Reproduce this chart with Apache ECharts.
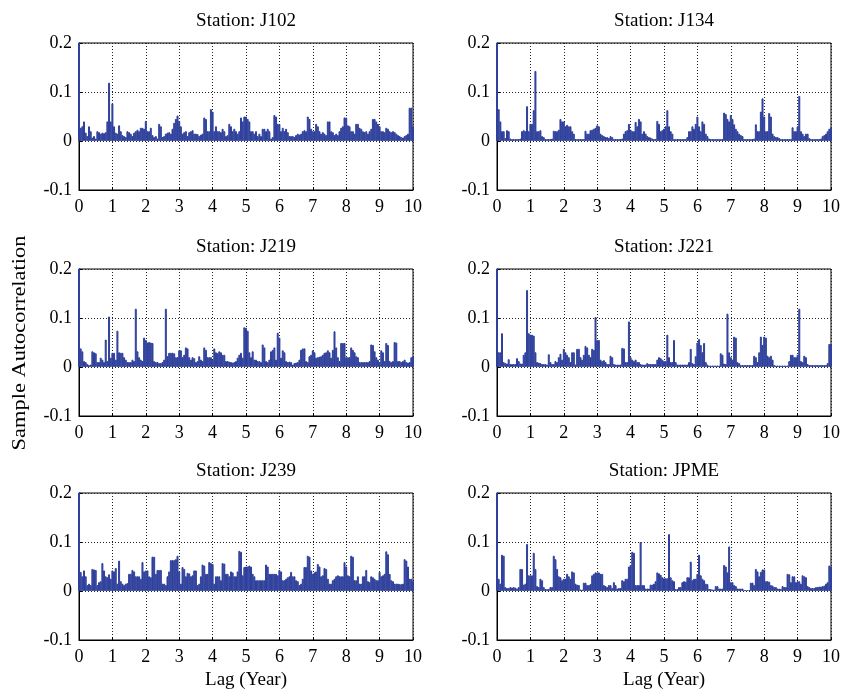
<!DOCTYPE html>
<html>
<head>
<meta charset="utf-8">
<script src="https://cdn.jsdelivr.net/npm/echarts@6/dist/echarts.min.js"></script>
<style>
  html, body { margin: 0; padding: 0; background: #fff; }
  #chart { width: 856px; height: 695px; }
</style>
</head>
<body>
<div id="chart"></div>
<script>
// sample autocorrelation, lag step 0.05 year (0 .. 10)
var stations = ['J102', 'J134', 'J219', 'J221', 'J239', 'JPME'];

var j102 = [
  1, .027, .03, .04, .017, .01, .03, .02, .007, .01, .005, .02, .018, .015, .017, .016, .018, .04, .119, .04,
  .077, .03, .017, .015, .032, .02, .012, .01, .008, .02, .018, .015, .01, .017, .02, .023, .02, .027, .027, .025,
  .041, .02, .02, .027, .012, .008, .01, .005, .035, .03, .008, .01, .015, .017, .018, .015, .025, .037, .045, .052,
  .041, .03, .015, .018, .02, .01, .018, .02, .022, .015, .015, .014, .01, .013, .015, .048, .045, .02, .02, .065,
  .06, .02, .03, .02, .02, .018, .025, .02, .01, .012, .035, .03, .02, .025, .02, .015, .02, .048, .04, .05,
  .05, .045, .04, .02, .02, .015, .02, .01, .015, .01, .025, .025, .02, .025, .02, .005, .008, .053, .05, .035,
  .035, .02, .027, .02, .025, .018, .01, .01, .01, .008, .012, .015, .013, .015, .02, .022, .02, .05, .045, .025,
  .02, .02, .035, .03, .02, .015, .018, .015, .012, .04, .04, .02, .018, .012, .015, .012, .02, .027, .03, .048,
  .048, .032, .03, .02, .02, .015, .035, .035, .027, .025, .02, .018, .02, .015, .02, .025, .045, .045, .04, .035,
  .03, .02, .02, .018, .027, .025, .02, .018, .02, .018, .015, .012, .01, .008, .007, .01, .012, .015, .068, .068,
  .03
];

var j134 = [
  1, .065, .04, .02, .02, .006, .022, .02, .005, .004, .004, .004, .004, .004, .005, .02, .022, .02, .071, .02,
  .035, .035, .063, .143, .02, .02, .022, .01, .008, .004, .004, .004, .004, .005, .021, .02, .02, .023, .045, .04,
  .04, .03, .033, .03, .03, .02, .015, .004, .004, .004, .004, .004, .004, .021, .015, .015, .022, .023, .025, .027,
  .032, .03, .015, .012, .01, .008, .008, .006, .01, .008, .004, .004, .004, .004, .004, .005, .015, .02, .022, .035,
  .023, .02, .02, .039, .03, .045, .04, .015, .02, .015, .01, .008, .007, .005, .004, .004, .041, .035, .02, .022,
  .025, .03, .063, .03, .02, .015, .004, .004, .004, .004, .004, .004, .004, .004, .008, .02, .02, .03, .025, .035,
  .05, .03, .02, .04, .035, .015, .01, .005, .004, .004, .004, .004, .004, .004, .004, .004, .058, .055, .045, .04,
  .053, .045, .034, .025, .02, .015, .012, .01, .004, .004, .004, .004, .004, .004, .005, .034, .02, .02, .06, .087,
  .05, .02, .02, .057, .05, .015, .01, .008, .008, .006, .004, .004, .004, .004, .004, .004, .004, .028, .02, .02,
  .03, .092, .02, .015, .01, .015, .015, .006, .004, .004, .004, .004, .004, .004, .005, .01, .012, .015, .02, .025,
  .028
];

var j219 = [
  1, .038, .032, .012, .01, .006, .004, .005, .032, .03, .028, .01, .01, .019, .015, .01, .056, .012, .103, .019,
  .029, .029, .015, .074, .03, .029, .029, .02, .015, .01, .01, .01, .015, .012, .119, .032, .02, .015, .012, .06,
  .055, .05, .051, .05, .049, .012, .01, .01, .008, .008, .01, .015, .119, .022, .029, .029, .029, .028, .02, .02,
  .034, .034, .02, .025, .04, .038, .02, .015, .02, .018, .01, .012, .022, .015, .012, .04, .035, .02, .02, .02,
  .015, .038, .03, .028, .032, .03, .025, .025, .012, .012, .011, .01, .009, .01, .012, .019, .025, .029, .019, .081,
  .08, .074, .03, .02, .032, .015, .015, .012, .012, .01, .046, .04, .012, .01, .015, .032, .035, .04, .015, .07,
  .06, .019, .034, .03, .012, .01, .011, .01, .005, .008, .009, .01, .015, .035, .038, .038, .012, .01, .022, .025,
  .034, .03, .019, .02, .021, .022, .025, .029, .03, .034, .03, .019, .035, .073, .04, .02, .012, .049, .049, .049,
  .02, .02, .02, .04, .035, .03, .022, .02, .01, .01, .01, .01, .01, .01, .012, .046, .045, .032, .02, .015,
  .01, .034, .03, .012, .049, .045, .012, .01, .012, .051, .05, .012, .012, .01, .012, .015, .01, .009, .01, .02,
  .022
];

var j221 = [
  1, .03, .03, .069, .01, .008, .007, .016, .006, .006, .006, .006, .018, .012, .007, .007, .025, .03, .157, .069,
  .066, .066, .064, .03, .01, .009, .008, .006, .006, .006, .005, .026, .01, .006, .006, .012, .01, .02, .027, .015,
  .037, .03, .025, .02, .01, .03, .03, .005, .037, .037, .02, .015, .025, .043, .04, .025, .02, .037, .035, .102,
  .055, .055, .015, .012, .014, .01, .006, .006, .023, .02, .006, .005, .005, .005, .005, .039, .038, .01, .01, .093,
  .02, .015, .012, .015, .01, .01, .006, .005, .005, .005, .008, .006, .006, .006, .006, .006, .015, .02, .018, .015,
  .012, .012, .066, .02, .01, .01, .055, .01, .005, .005, .005, .005, .005, .005, .005, .01, .037, .008, .006, .022,
  .05, .057, .045, .03, .049, .01, .005, .003, .003, .003, .003, .003, .003, .003, .028, .025, .007, .006, .109, .03,
  .02, .015, .062, .06, .01, .008, .004, .004, .004, .004, .004, .004, .004, .004, .023, .02, .01, .03, .062, .045,
  .062, .06, .023, .02, .023, .015, .004, .003, .003, .003, .003, .003, .003, .003, .003, .012, .025, .025, .02, .02,
  .025, .119, .012, .01, .023, .02, .006, .004, .004, .004, .004, .004, .004, .004, .004, .004, .004, .004, .008, .047,
  .047
];

var j239 = [
  1, .039, .03, .042, .03, .012, .015, .012, .045, .044, .043, .012, .018, .02, .057, .042, .03, .028, .034, .025,
  .042, .04, .047, .015, .062, .02, .015, .012, .015, .016, .035, .035, .043, .04, .03, .03, .03, .025, .059, .04,
  .042, .042, .03, .028, .07, .07, .035, .043, .043, .043, .015, .015, .012, .03, .04, .063, .063, .063, .065, .072,
  .04, .015, .049, .045, .03, .037, .036, .03, .032, .042, .042, .012, .015, .03, .054, .052, .035, .035, .059, .057,
  .055, .015, .03, .03, .03, .022, .057, .056, .035, .035, .03, .04, .038, .03, .03, .04, .082, .08, .032, .049,
  .05, .05, .052, .05, .035, .03, .022, .022, .022, .022, .022, .022, .054, .05, .035, .035, .035, .035, .035, .032,
  .043, .04, .022, .022, .025, .028, .03, .039, .03, .03, .022, .02, .012, .015, .025, .049, .049, .072, .07, .042,
  .035, .038, .04, .055, .05, .03, .032, .047, .045, .025, .015, .015, .022, .025, .03, .032, .03, .03, .03, .059,
  .05, .032, .03, .072, .07, .022, .022, .03, .015, .015, .03, .03, .043, .02, .018, .03, .028, .025, .022, .022,
  .039, .03, .032, .035, .081, .075, .035, .022, .02, .015, .015, .015, .014, .014, .015, .065, .062, .05, .025, .025,
  .02
];

var jpme = [
  1, .025, .015, .074, .072, .008, .006, .006, .008, .007, .008, .007, .005, .008, .045, .045, .013, .015, .096, .032,
  .032, .032, .078, .045, .01, .008, .025, .022, .008, .004, .004, .004, .008, .008, .072, .065, .045, .03, .028, .022,
  .025, .025, .035, .03, .025, .04, .038, .015, .013, .012, .003, .003, .017, .017, .012, .012, .014, .032, .035, .038,
  .038, .038, .035, .035, .012, .01, .008, .012, .012, .006, .018, .012, .005, .006, .006, .022, .02, .025, .025, .05,
  .053, .08, .078, .012, .012, .012, .1, .012, .012, .005, .005, .005, .013, .013, .015, .02, .038, .036, .033, .028,
  .026, .026, .026, .116, .028, .022, .02, .004, .004, .008, .008, .018, .02, .019, .028, .028, .06, .022, .025, .025,
  .035, .074, .032, .025, .022, .015, .014, .004, .004, .003, .003, .01, .01, .005, .005, .005, .053, .05, .038, .091,
  .018, .018, .012, .01, .005, .005, .005, .005, .002, .002, .002, .002, .017, .017, .012, .045, .04, .03, .039, .044,
  .044, .02, .02, .019, .012, .011, .008, .008, .005, .005, .004, .01, .008, .008, .035, .034, .018, .03, .03, .018,
  .02, .02, .015, .032, .03, .028, .01, .008, .006, .006, .006, .008, .008, .009, .009, .01, .011, .015, .018, .052,
  .05
];

var values = [j102, j134, j219, j221, j239, jpme];
var lags = j102.map(function (v, i) { return +(i * 0.05).toFixed(2); });

var FONT = 'Liberation Serif, Times New Roman, serif';
var LINE = '#2f419c';
var lefts = [79, 497];
var tops = [43, 269, 493];
var W = 334, H = 147;

var chart = echarts.init(document.getElementById('chart'));
var grids = [], xAxes = [], yAxes = [], series = [], graphics = [];

stations.forEach(function (name, k) {
  var col = k % 2, row = Math.floor(k / 2);
  grids.push({
    left: lefts[col], top: tops[row], width: W, height: H,
    show: true, borderColor: '#000', borderWidth: 1, containLabel: false
  });
  xAxes.push({
    type: 'value', gridIndex: k, min: 0, max: 10, interval: 1,
    name: row === 2 ? 'Lag (Year)' : '',
    nameLocation: 'middle', nameGap: 31,
    nameTextStyle: { fontFamily: FONT, fontSize: 19, color: '#000' },
    axisLine: { show: true, onZero: false, lineStyle: { color: '#000', width: 1 } },
    axisTick: { show: true, inside: true, length: 3, lineStyle: { color: '#000' } },
    axisLabel: { fontFamily: FONT, fontSize: 18, color: '#000', margin: 8 },
    splitLine: { show: true, lineStyle: { color: '#222', width: 1, type: [1, 2] } }
  });
  yAxes.push({
    type: 'value', gridIndex: k, min: -0.1, max: 0.2, interval: 0.1,
    axisLine: { show: true, lineStyle: { color: '#000', width: 1 } },
    axisTick: { show: true, inside: true, length: 3, lineStyle: { color: '#000' } },
    axisLabel: {
      fontFamily: FONT, fontSize: 18, color: '#000', margin: 7,
      formatter: function (v) { return String(+v.toFixed(1)); }
    },
    splitLine: { show: true, lineStyle: { color: '#222', width: 1, type: [1, 2] } }
  });
  series.push({
    type: 'bar', xAxisIndex: k, yAxisIndex: k,
    data: lags.map(function (x, i) { return [x, values[k][i]]; }),
    barWidth: 2, clip: true, animation: false,
    itemStyle: { color: LINE, borderColor: LINE, borderWidth: 1 }
  });
  graphics.push({
    type: 'text', x: lefts[col] + W / 2, y: tops[row] - 22,
    style: { text: 'Station: ' + name, font: '19px ' + FONT, fill: '#000', align: 'center', verticalAlign: 'middle' }
  });
});

graphics.push({
  type: 'text', x: 20, y: 343, rotation: Math.PI / 2, scaleX: 1.18,
  style: { text: 'Sample Autocorrelation', font: '19px ' + FONT, fill: '#000', align: 'center', verticalAlign: 'middle' }
});

chart.setOption({
  backgroundColor: '#fff',
  animation: false,
  grid: grids,
  xAxis: xAxes,
  yAxis: yAxes,
  series: series,
  graphic: graphics
});
</script>
</body>
</html>
